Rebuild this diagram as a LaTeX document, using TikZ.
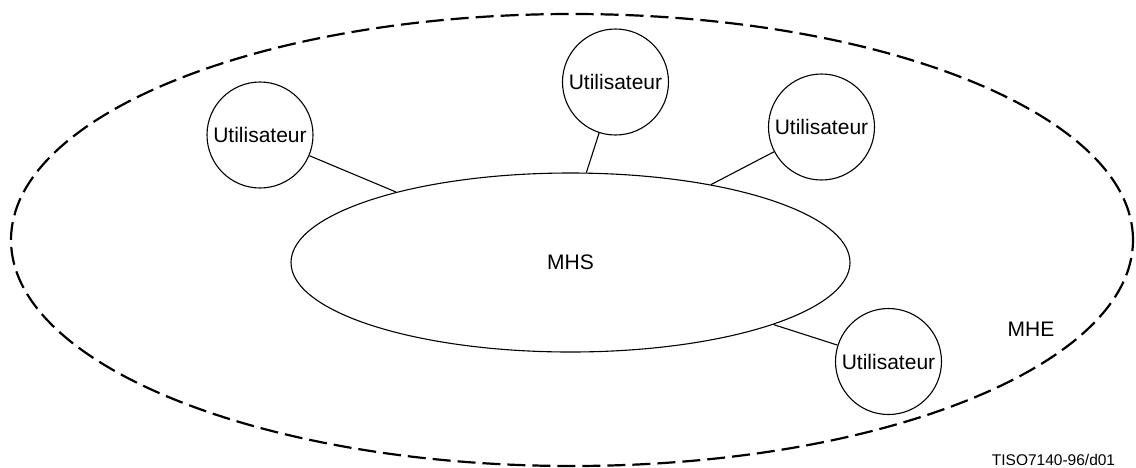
\documentclass[tikz,border=0pt]{standalone}
\usepackage{fontspec}
\setmainfont{Liberation Sans}
\usetikzlibrary{shapes.geometric}

\tikzset{
  user/.style={circle, draw, line width=1.1pt, minimum size=106pt, inner sep=0pt,
               font=\fontsize{21}{24}\selectfont},
  system/.style={ellipse, draw, line width=1.1pt, minimum width=559pt,
                 minimum height=179pt, inner sep=0pt,
                 font=\fontsize{21}{24}\selectfont},
  environment/.style={ellipse, draw, line width=2.2pt,
                      dash pattern=on 18pt off 7pt,
                      minimum width=1122pt, minimum height=452pt, inner sep=0pt},
  link/.style={line width=1.1pt},
  plain/.style={inner sep=0pt, font=\fontsize{21}{24}\selectfont},
  ref/.style={inner sep=0pt, font=\fontsize{15.5}{18}\selectfont}
}

\begin{document}
\begin{tikzpicture}[x=1pt, y=-1pt]
  \useasboundingbox (0,0) rectangle (1136,467);

  % message handling environment
  \node[environment] (mhe) at (572,240) {};
  \node[plain] (mhelabel) at (1031,329) {MHE};

  % message handling system
  \node[system] (mhs) at (570.5,262.5) {MHS};

  % users
  \node[user] (u1) at (260,135) {Utilisateur};
  \node[user] (u2) at (615.5,82) {Utilisateur};
  \node[user] (u3) at (821.5,127) {Utilisateur};
  \node[user] (u4) at (888.5,361.5) {Utilisateur};

  % user attachments to the MHS
  \draw[link] (u1) -- (mhs.158.7);
  \draw[link] (u2) -- (mhs.80.2);
  \draw[link] (u3) -- (mhs.29.05);
  \draw[link] (u4) -- (mhs.-17.66);

  \node[ref] (figref) at (1053.5,460) {TISO7140-96/d01};
\end{tikzpicture}
\end{document}
